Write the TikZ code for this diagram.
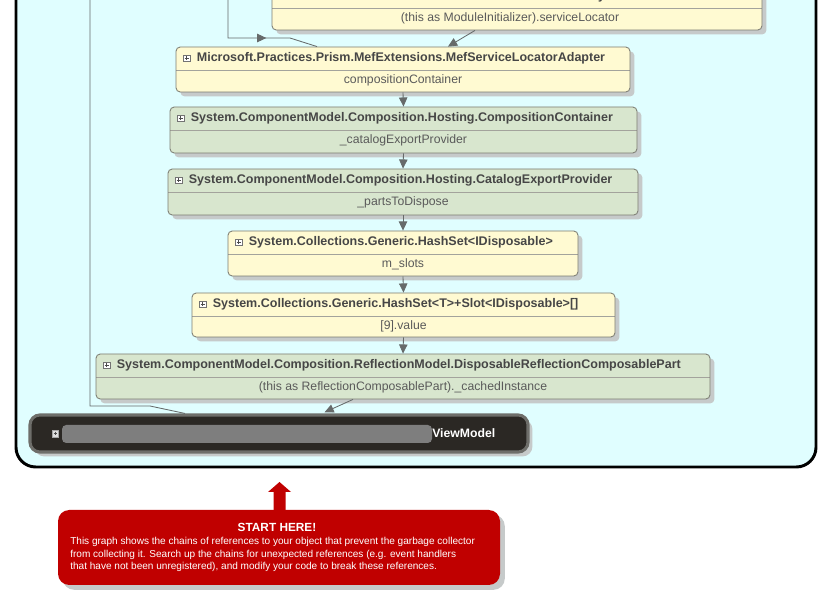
\documentclass[tikz,border=0pt]{standalone}
\usepackage{fontspec}
\setmainfont{Liberation Sans}
\usetikzlibrary{arrows.meta, calc, shadows, decorations.markings}

\definecolor{panelcyan}{HTML}{E0FEFF}
\definecolor{noteyellow}{HTML}{FFFAD2}
\definecolor{notegreen}{HTML}{D8E6CE}
\definecolor{boxline}{HTML}{7C7C72}
\definecolor{linkgray}{HTML}{666A6A}
\definecolor{shadowgray}{HTML}{C6CACA}
\definecolor{titlegray}{HTML}{464646}
\definecolor{subgray}{HTML}{5A5A5A}
\definecolor{darknode}{HTML}{2B2824}
\definecolor{darkline}{HTML}{6E6E6A}
\definecolor{smudge}{HTML}{7E7E7E}
\definecolor{hintred}{HTML}{C00000}

\newcommand{\pxu}{0.025cm}

\begin{document}
\begin{tikzpicture}[x=0.025cm, y=-0.025cm,
  boxsize/.style 2 args={minimum width=#1*\pxu, minimum height=#2*\pxu},
  objbox/.style={draw=boxline, line width=0.6pt, rounded corners=3pt, inner sep=0pt,
    drop shadow={shadow xshift=1.1mm, shadow yshift=-1.1mm, fill=shadowgray, opacity=1},
    path picture={\draw[boxline!70, line width=0.4pt]
      ([yshift=-23*\pxu]path picture bounding box.north west) --
      ([yshift=-23*\pxu]path picture bounding box.north east);}},
  darkbox/.style={draw=darkline, line width=2.2pt, fill=darknode, rounded corners=7pt,
    inner sep=0pt, drop shadow={shadow xshift=1.1mm, shadow yshift=-1.1mm, fill=shadowgray, opacity=1}},
  hintbox/.style={fill=hintred, rounded corners=8pt, inner sep=0pt,
    drop shadow={shadow xshift=1.2mm, shadow yshift=-1.2mm, fill=shadowgray, opacity=1}},
  expander/.style={draw=black!55, fill=white, line width=0.35pt, minimum size=6.5*\pxu, inner sep=0pt,
    path picture={\draw[black!70, line width=0.45pt]
      ($(path picture bounding box.west)!0.4!(path picture bounding box.center)$) --
      ($(path picture bounding box.east)!0.4!(path picture bounding box.center)$)
      ($(path picture bounding box.north)!0.4!(path picture bounding box.center)$) --
      ($(path picture bounding box.south)!0.4!(path picture bounding box.center)$);}},
  titletext/.style={font=\bfseries\fontsize{8.9}{10}\selectfont, text=titlegray, anchor=west, inner sep=0pt},
  subtext/.style={font=\fontsize{8.7}{10}\selectfont, text=subgray, inner sep=0pt},
  link/.style={draw=linkgray, line width=0.6pt},
  refarrow/.style={link, -{Triangle[length=6.5pt, width=6pt]}},
  midarrow/.style={postaction={decorate}, decoration={markings,
    mark=at position #1 with {\arrow{Triangle[length=6.5pt, width=6pt]}}}}]

% Canvas
\useasboundingbox (0,0) rectangle (825,597);
\clip (0,0) rectangle (825,597);

% Frame of the graph
\draw[line width=2.1pt, rounded corners=14pt, fill=panelcyan] (16,-40) rectangle (816,467);

% Links coming in from above the visible part
\coordinate (leftA) at (90,-5);
\coordinate (leftB) at (228,-5);

% Nodes
\node[objbox, fill=noteyellow, boxsize={490}{45}] (initializer) at (517,7.5) {};
\node[expander] at ($(initializer.north west)+(11,11.5)$) {};
\node[titletext] (initializerT) at ($(initializer.north west)+(21,11.5)$)
  {Microsoft.Practices.Prism.MefExtensions.Modularity.MefModuleInitializer};
\node[subtext] (initializerS) at ($(initializer.north)+(-7,34)$) {(this as ModuleInitializer).serviceLocator};

\node[objbox, fill=noteyellow, boxsize={454}{45}] (adapter) at (403,69.5) {};
\node[expander] at ($(adapter.north west)+(11,11.5)$) {};
\node[titletext] (adapterT) at ($(adapter.north west)+(21,11.5)$)
  {Microsoft.Practices.Prism.MefExtensions.MefServiceLocatorAdapter};
\node[subtext] (adapterS) at ($(adapter.north)+(0,34)$) {compositionContainer};

\node[objbox, fill=notegreen, boxsize={467}{46}] (container) at (403.5,130) {};
\node[expander] at ($(container.north west)+(11,11.5)$) {};
\node[titletext] (containerT) at ($(container.north west)+(21,11.5)$)
  {System.ComponentModel.Composition.Hosting.CompositionContainer};
\node[subtext] (containerS) at ($(container.north)+(0,34)$) {\_catalogExportProvider};

\node[objbox, fill=notegreen, boxsize={470}{46}] (catalog) at (403,192) {};
\node[expander] at ($(catalog.north west)+(11,11.5)$) {};
\node[titletext] (catalogT) at ($(catalog.north west)+(21,11.5)$)
  {System.ComponentModel.Composition.Hosting.CatalogExportProvider};
\node[subtext] (catalogS) at ($(catalog.north)+(0,34)$) {\_partsToDispose};

\node[objbox, fill=noteyellow, boxsize={350}{45}] (hashset) at (403,253.5) {};
\node[expander] at ($(hashset.north west)+(11,11.5)$) {};
\node[titletext] (hashsetT) at ($(hashset.north west)+(21,11.5)$)
  {System.Collections.Generic.HashSet<IDisposable>};
\node[subtext] (hashsetS) at ($(hashset.north)+(0,34)$) {m\_slots};

\node[objbox, fill=noteyellow, boxsize={423}{44}] (slots) at (403.5,315) {};
\node[expander] at ($(slots.north west)+(11,11.5)$) {};
\node[titletext] (slotsT) at ($(slots.north west)+(21,11.5)$)
  {System.Collections.Generic.HashSet<T>+Slot<IDisposable>[]};
\node[subtext] (slotsS) at ($(slots.north)+(0,34)$) {[9].value};

\node[objbox, fill=notegreen, boxsize={614}{45}] (composable) at (403,376.5) {};
\node[expander] at ($(composable.north west)+(11,11.5)$) {};
\node[titletext] (composableT) at ($(composable.north west)+(21,11.5)$)
  {System.ComponentModel.Composition.ReflectionModel.DisposableReflectionComposablePart};
\node[subtext] (composableS) at ($(composable.north)+(0,34)$) {(this as ReflectionComposablePart).\_cachedInstance};

\node[darkbox, boxsize={498}{37}] (viewmodel) at (279,433.5) {};
\node[expander, draw=gray!70, fill=gray!25] at ($(viewmodel.west)+(27,0)$) {};
\node[titletext, text=white, font=\bfseries\fontsize{8.7}{10}\selectfont, anchor=east] (viewmodelT)
  at ($(viewmodel.east)+(-34,0)$) {ViewModel};
\fill[smudge, rounded corners=3pt] (62,425) rectangle (432,443);

% Arrows - incoming from above
\draw[link, midarrow=0.61] (leftB) |- (290,38) -- (317,0 |- adapter.north);
\draw[link] (leftA) |- (150,406) -- (185,0 |- viewmodel.north);
\draw[refarrow] (475,0 |- initializer.south) -- (448,0 |- adapter.north);

% Arrows - the chain
\draw[refarrow] (adapter.south) -- (container.north);
\draw[refarrow] (container.south) -- (catalog.north);
\draw[refarrow] (catalog.south) -- (hashset.north);
\draw[refarrow] (hashset.south) -- (slots.north);
\draw[refarrow] (slots.south) -- (composable.north);
\draw[refarrow, shorten >=2pt] (353,0 |- composable.south) -- (322,0 |- viewmodel.north);

% Start here note
\fill[hintred] (273.5,511) -- (273.5,492) -- (268,492) -- (279.5,482) -- (291,492)
  -- (285.5,492) -- (285.5,511) -- cycle;
\node[hintbox, boxsize={442}{75}] (hint) at (279,547.5) {};
\node[text=white, font=\bfseries\fontsize{8.4}{10}\selectfont, inner sep=0pt] (hintT) at (277,527) {START HERE!};
\node[text=white, font=\fontsize{7.15}{8.9}\selectfont, align=left, anchor=north west, inner sep=0pt] (hintB)
  at (70,537) {This graph shows the chains of references to your object that prevent the garbage collector\\
  from collecting it. Search up the chains for unexpected references (e.g. event handlers\\
  that have not been unregistered), and modify your code to break these references.};

\end{tikzpicture}
\end{document}
